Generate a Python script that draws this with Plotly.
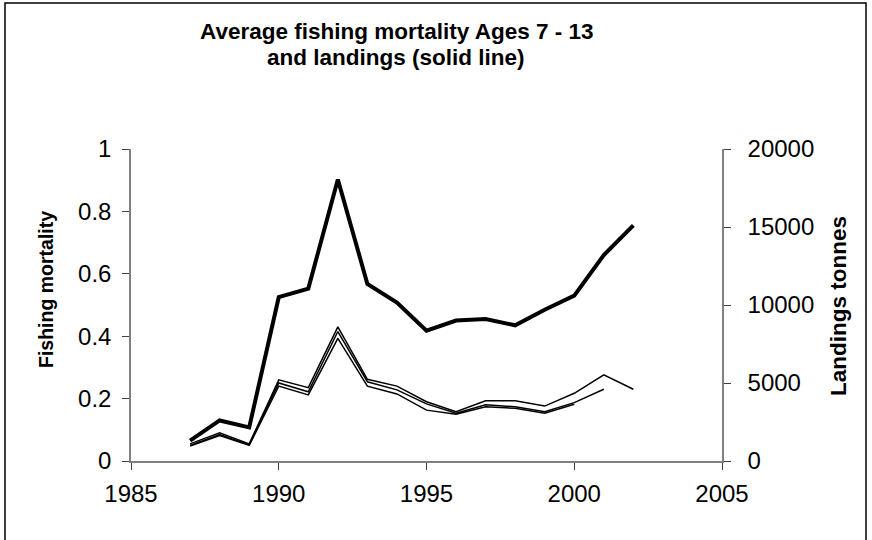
import plotly.graph_objects as go

years = list(range(1987, 2003))
landings = [1300, 2600, 2150, 10500, 11050, 18050, 11350, 10150, 8350, 9000, 9100, 8700, 9700, 10600, 13200, 15100]

f_years_a = list(range(1987, 2003))
f_a = [0.055, 0.090, 0.055, 0.260, 0.235, 0.430, 0.262, 0.240, 0.190, 0.158, 0.193, 0.193, 0.176, 0.217, 0.276, 0.230]
f_years_b = list(range(1987, 2002))
f_b = [0.050, 0.085, 0.052, 0.250, 0.222, 0.415, 0.254, 0.228, 0.183, 0.153, 0.180, 0.174, 0.158, 0.187, 0.230]
f_years_c = list(range(1987, 2001))
f_c = [0.048, 0.082, 0.050, 0.240, 0.212, 0.393, 0.240, 0.215, 0.163, 0.150, 0.174, 0.169, 0.153, 0.182]

title_lines = ["Average fishing mortality Ages 7 - 13", "and landings (solid line)"]

W, H = 872, 540
L, R, T, B = 131, 722, 149, 461
FONT = "Liberation Sans, Arial, sans-serif"

def px(x):
    return (x - L) / (R - L)

def py(y):
    return (B - y) / (B - T)

fig = go.Figure()
for xs, ys in [(f_years_a, f_a), (f_years_b, f_b), (f_years_c, f_c)]:
    fig.add_trace(go.Scatter(x=xs, y=ys, mode="lines", line=dict(color="black", width=1.5),
                             showlegend=False, yaxis="y"))
fig.add_trace(go.Scatter(x=years, y=landings, mode="lines", line=dict(color="black", width=4),
                         showlegend=False, yaxis="y2"))

axis_common = dict(showgrid=False, zeroline=False, showline=True, linecolor="#808080", linewidth=1.5,
                   ticks="outside", ticklen=7, tickcolor="#404040", tickwidth=1,
                   tickfont=dict(family=FONT, size=24, color="black"))

annotations = [
    dict(text="<b>%s</b>" % title_lines[0], x=px(396), y=py(31), xref="paper", yref="paper",
         showarrow=False, font=dict(family=FONT, size=22.5, color="black"), xanchor="center", yanchor="middle"),
    dict(text="<b>%s</b>" % title_lines[1], x=px(396), y=py(58), xref="paper", yref="paper",
         showarrow=False, font=dict(family=FONT, size=22.5, color="black"), xanchor="center", yanchor="middle"),
    dict(text="<b>Fishing mortality</b>", textangle=-90, x=px(46), y=py(290), xref="paper", yref="paper",
         showarrow=False, font=dict(family=FONT, size=19.5, color="black"), xanchor="center", yanchor="middle"),
    dict(text="<b>Landings tonnes</b>", textangle=-90, x=px(838), y=py(306), xref="paper", yref="paper",
         showarrow=False, font=dict(family=FONT, size=22.5, color="black"), xanchor="center", yanchor="middle"),
]

fig.update_layout(
    width=W, height=H,
    margin=dict(l=L, r=W - R, t=T, b=H - B, pad=0),
    paper_bgcolor="white", plot_bgcolor="white",
    xaxis=dict(range=[1985, 2005], tickvals=[1985, 1990, 1995, 2000, 2005], tickformat="d",
               ticklabelstandoff=3, **axis_common),
    yaxis=dict(range=[0, 1], tickvals=[0, 0.2, 0.4, 0.6, 0.8, 1], ticklabelstandoff=6, **axis_common),
    yaxis2=dict(range=[0, 20000], tickvals=[0, 5000, 10000, 15000, 20000], tickformat="d",
                overlaying="y", side="right", ticklabelstandoff=12, **axis_common),
    annotations=annotations,
    shapes=[dict(type="rect", xref="paper", yref="paper", x0=px(5), x1=px(866), y0=py(541), y1=py(3),
                 line=dict(color="black", width=1.5), fillcolor="rgba(0,0,0,0)", layer="below")],
)

fig.write_html("out.html", config={"displayModeBar": False},
               post_script="document.body.style.margin='0';document.body.style.padding='0';")
